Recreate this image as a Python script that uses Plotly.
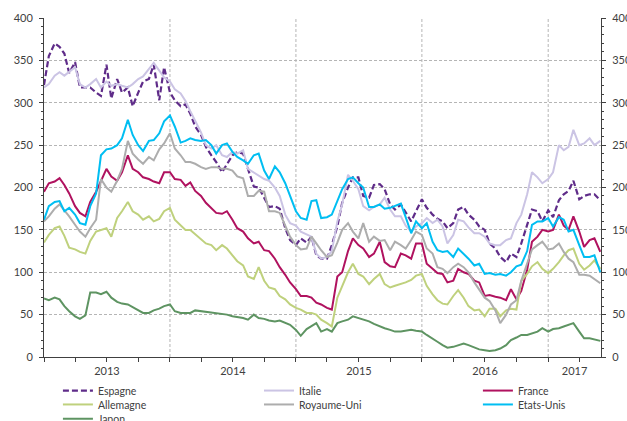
import plotly.graph_objects as go
import pandas as pd

# ---- data (semi-monthly readings, Jan 2013 -> Jun 2017) ----
start_date = "2013-01-01"
n_points = 107
dates = pd.date_range(start_date, periods=n_points, freq="SMS")

espagne = [321, 355, 370, 366, 358, 335, 348, 318, 318, 318, 312, 308, 345, 305, 328, 312, 318, 296, 312, 325, 328, 345, 303, 342, 312, 303, 296, 298,
           287, 272, 262, 248, 238, 230, 218, 228, 238, 242, 240, 222, 201, 200, 188, 177, 178, 175, 152, 138, 132, 140, 135, 142, 120, 116, 116, 132,
           154, 182, 200, 212, 212, 190, 188, 203, 204, 198, 180, 174, 180, 170, 160, 172, 186, 176, 168, 163, 160, 152, 158, 174, 177, 168, 162, 154,
           150, 134, 128, 118, 112, 122, 118, 134, 156, 174, 172, 160, 173, 165, 185, 192, 196, 208, 186, 190, 192, 192, 185]
italie = [318, 322, 332, 336, 332, 337, 342, 322, 318, 322, 328, 318, 325, 320, 322, 320, 318, 322, 328, 331, 340, 347, 338, 330, 325, 316, 311, 302,
          290, 278, 265, 250, 246, 250, 238, 236, 242, 240, 244, 222, 218, 214, 210, 208, 200, 190, 168, 158, 155, 148, 145, 142, 122, 116, 118, 125,
          160, 180, 215, 208, 198, 178, 173, 177, 180, 188, 174, 166, 166, 155, 148, 154, 158, 164, 158, 162, 154, 134, 144, 162, 160, 153, 146, 146,
          142, 134, 132, 132, 138, 140, 158, 168, 192, 218, 212, 205, 210, 218, 250, 244, 248, 268, 250, 252, 258, 250, 255]
france = [195, 205, 207, 211, 203, 193, 178, 170, 166, 183, 195, 207, 222, 213, 208, 218, 238, 222, 218, 212, 210, 207, 205, 218, 218, 210, 209, 202,
          206, 196, 190, 182, 176, 170, 169, 172, 162, 152, 148, 140, 134, 136, 126, 125, 116, 106, 97, 88, 80, 72, 72, 70, 64, 62, 58, 56,
          95, 100, 125, 140, 132, 128, 118, 122, 136, 112, 107, 106, 122, 120, 116, 134, 134, 110, 104, 99, 98, 88, 90, 104, 100, 98, 90, 88,
          72, 73, 71, 70, 67, 80, 68, 78, 103, 136, 142, 150, 148, 150, 168, 155, 150, 166, 148, 130, 138, 140, 124]
allemagne = [135, 144, 152, 154, 143, 129, 127, 124, 122, 137, 148, 150, 152, 142, 164, 172, 183, 172, 168, 162, 166, 160, 163, 172, 176, 162, 155, 150,
             150, 145, 140, 134, 132, 126, 132, 128, 120, 113, 108, 95, 92, 106, 90, 82, 80, 72, 68, 62, 58, 56, 52, 52, 50, 44, 40, 36,
             70, 84, 100, 110, 98, 95, 86, 92, 98, 86, 82, 84, 86, 88, 91, 96, 98, 84, 74, 67, 63, 62, 72, 79, 70, 60, 55, 56,
             48, 57, 57, 48, 55, 57, 56, 90, 98, 107, 112, 104, 99, 104, 112, 120, 126, 128, 110, 103, 108, 114, 104]
royaume_uni = [160, 166, 175, 180, 173, 166, 156, 148, 142, 152, 162, 210, 200, 195, 208, 222, 255, 240, 233, 228, 236, 232, 245, 252, 264, 246, 238, 230,
               230, 228, 224, 222, 224, 224, 222, 222, 220, 213, 211, 190, 190, 196, 195, 172, 172, 170, 155, 142, 132, 127, 128, 142, 134, 126, 118, 120,
               135, 150, 158, 148, 140, 158, 136, 142, 137, 138, 126, 136, 132, 128, 138, 148, 144, 128, 122, 106, 104, 99, 106, 110, 106, 100, 88, 80,
               70, 66, 55, 40, 50, 62, 67, 90, 110, 127, 132, 136, 127, 128, 134, 124, 116, 112, 97, 97, 96, 92, 87]
etats_unis = [162, 178, 183, 184, 172, 176, 168, 158, 156, 178, 193, 238, 245, 246, 250, 258, 280, 262, 250, 243, 255, 256, 264, 278, 285, 272, 253, 255,
              258, 256, 255, 256, 250, 240, 250, 252, 242, 236, 232, 228, 238, 240, 220, 210, 225, 218, 205, 190, 172, 164, 162, 184, 185, 164, 165, 168,
              185, 198, 210, 212, 205, 200, 177, 177, 180, 175, 176, 178, 181, 165, 146, 160, 152, 158, 136, 126, 124, 125, 118, 128, 122, 116, 108, 110,
              98, 99, 97, 98, 96, 100, 107, 109, 125, 156, 160, 160, 164, 154, 165, 162, 148, 150, 132, 118, 118, 120, 100]
japon = [69, 67, 70, 68, 60, 54, 48, 45, 49, 76, 76, 74, 77, 70, 65, 63, 62, 59, 55, 52, 52, 55, 57, 60, 62, 54, 52, 52,
         52, 55, 54, 53, 52, 51, 50, 50, 48, 47, 46, 44, 50, 46, 45, 43, 42, 43, 40, 38, 32, 25, 33, 37, 40, 30, 33, 30,
         40, 42, 44, 48, 46, 44, 42, 39, 36, 34, 32, 30, 30, 31, 32, 31, 30, 26, 22, 18, 14, 11, 12, 14, 16, 14, 11, 9,
         8, 7, 8, 10, 14, 20, 23, 26, 26, 28, 30, 34, 30, 33, 34, 36, 38, 40, 30, 22, 22, 21, 19]

series_names = ["Espagne", "Italie", "France", "Allemagne", "Royaume-Uni", "Etats-Unis", "Japon"]
series_values = [espagne, italie, france, allemagne, royaume_uni, etats_unis, japon]
colors = ["#5F2C89", "#CBC4E4", "#B0125F", "#BFD17D", "#ADADAD", "#00BEF2", "#5E9462"]

year_labels = ["2013", "2014", "2015", "2016", "2017"]
year_starts = ["2014-01-01", "2015-01-01", "2016-01-01", "2017-01-01"]
x_end = "2017-06-03"
y_ticks = [0, 50, 100, 150, 200, 250, 300, 350, 400]

# legend cell positions (paper coords): column, row
legend_pos = {
    "Espagne": (0.025, -0.099), "Italie": (0.386, -0.099), "France": (0.779, -0.099),
    "Allemagne": (0.025, -0.140), "Royaume-Uni": (0.386, -0.140), "Etats-Unis": (0.779, -0.140),
    "Japon": (0.025, -0.182),
}

fig = go.Figure()
for i, (name, vals, col) in enumerate(zip(series_names, series_values, colors)):
    lg = "legend" if i == 0 else f"legend{i + 1}"
    fig.add_trace(go.Scatter(
        x=dates, y=vals, mode="lines", name=name, legend=lg, showlegend=True,
        line=dict(color=col, width=2.2 if name == "Espagne" else 2,
                  dash="6px,3px" if name == "Espagne" else "solid"),
        hoverinfo="skip",
    ))

# invisible helper trace so that the mirrored right-hand axis is drawn
fig.add_trace(go.Scatter(x=dates[:1], y=japon[:1], yaxis="y2", mode="markers",
                         marker=dict(opacity=0, size=1), showlegend=False, hoverinfo="skip"))

# legends
leg_layout = {}
for i, name in enumerate(series_names):
    key = "legend" if i == 0 else f"legend{i + 1}"
    x, y = legend_pos[name]
    leg_layout[key] = dict(x=x, y=y, xanchor="left", yanchor="middle", visible=True,
                           bgcolor="rgba(0,0,0,0)", borderwidth=0,
                           font=dict(family="Lato", size=10.5, color="#404040"))
fig.update_layout(showlegend=True, **leg_layout)

# year gridlines
for ys in year_starts:
    fig.add_shape(type="line", xref="x", yref="y", x0=ys, x1=ys, y0=0, y1=400,
                  line=dict(color="#B5B5B5", width=1, dash="3px,2px"), layer="below")

# year label positions (middle of each visible year)
t0 = pd.Timestamp(start_date)
tend = pd.Timestamp(x_end)
bounds = [t0] + [pd.Timestamp(s) for s in year_starts] + [tend]
tick_mid = [bounds[k] + (bounds[k + 1] - bounds[k]) / 2 for k in range(len(year_labels))]

axis_col = "#404040"
fig.update_layout(
    width=627, height=421,
    margin=dict(l=44, r=26, t=18, b=64, autoexpand=False),
    plot_bgcolor="white", paper_bgcolor="white",
    font=dict(family="Lato", size=11, color="#404040"),
    xaxis=dict(type="date", range=[start_date, x_end], tickmode="array",
               tickvals=tick_mid, ticktext=year_labels, ticks="", showgrid=False,
               showline=True, linecolor=axis_col, linewidth=1, zeroline=False,
               ticklabelstandoff=4,
               minor=dict(ticks="outside", ticklen=4, dtick="M3", tick0=start_date,
                          tickcolor=axis_col, showgrid=False)),
    yaxis=dict(range=[0, 400], tickmode="array", tickvals=y_ticks, ticks="outside",
               ticklen=4, tickcolor=axis_col, showline=True, linecolor=axis_col, linewidth=1,
               showgrid=True, gridcolor="#B5B5B5", griddash="3px,2px", gridwidth=1,
               zeroline=False, ticklabelstandoff=4,
               minor=dict(ticks="outside", ticklen=2, dtick=10, tickcolor=axis_col, showgrid=False)),
    yaxis2=dict(range=[0, 400], overlaying="y", side="right", anchor="x", tickmode="array",
                tickvals=y_ticks, ticks="outside", ticklen=4, tickcolor=axis_col,
                showline=True, linecolor=axis_col, linewidth=1, showgrid=False, zeroline=False,
                ticklabelstandoff=4,
                minor=dict(ticks="outside", ticklen=2, dtick=10, tickcolor=axis_col, showgrid=False)),
)
fig.write_html("out.html", config={"displayModeBar": False},
               post_script="document.body.style.margin='0';")
